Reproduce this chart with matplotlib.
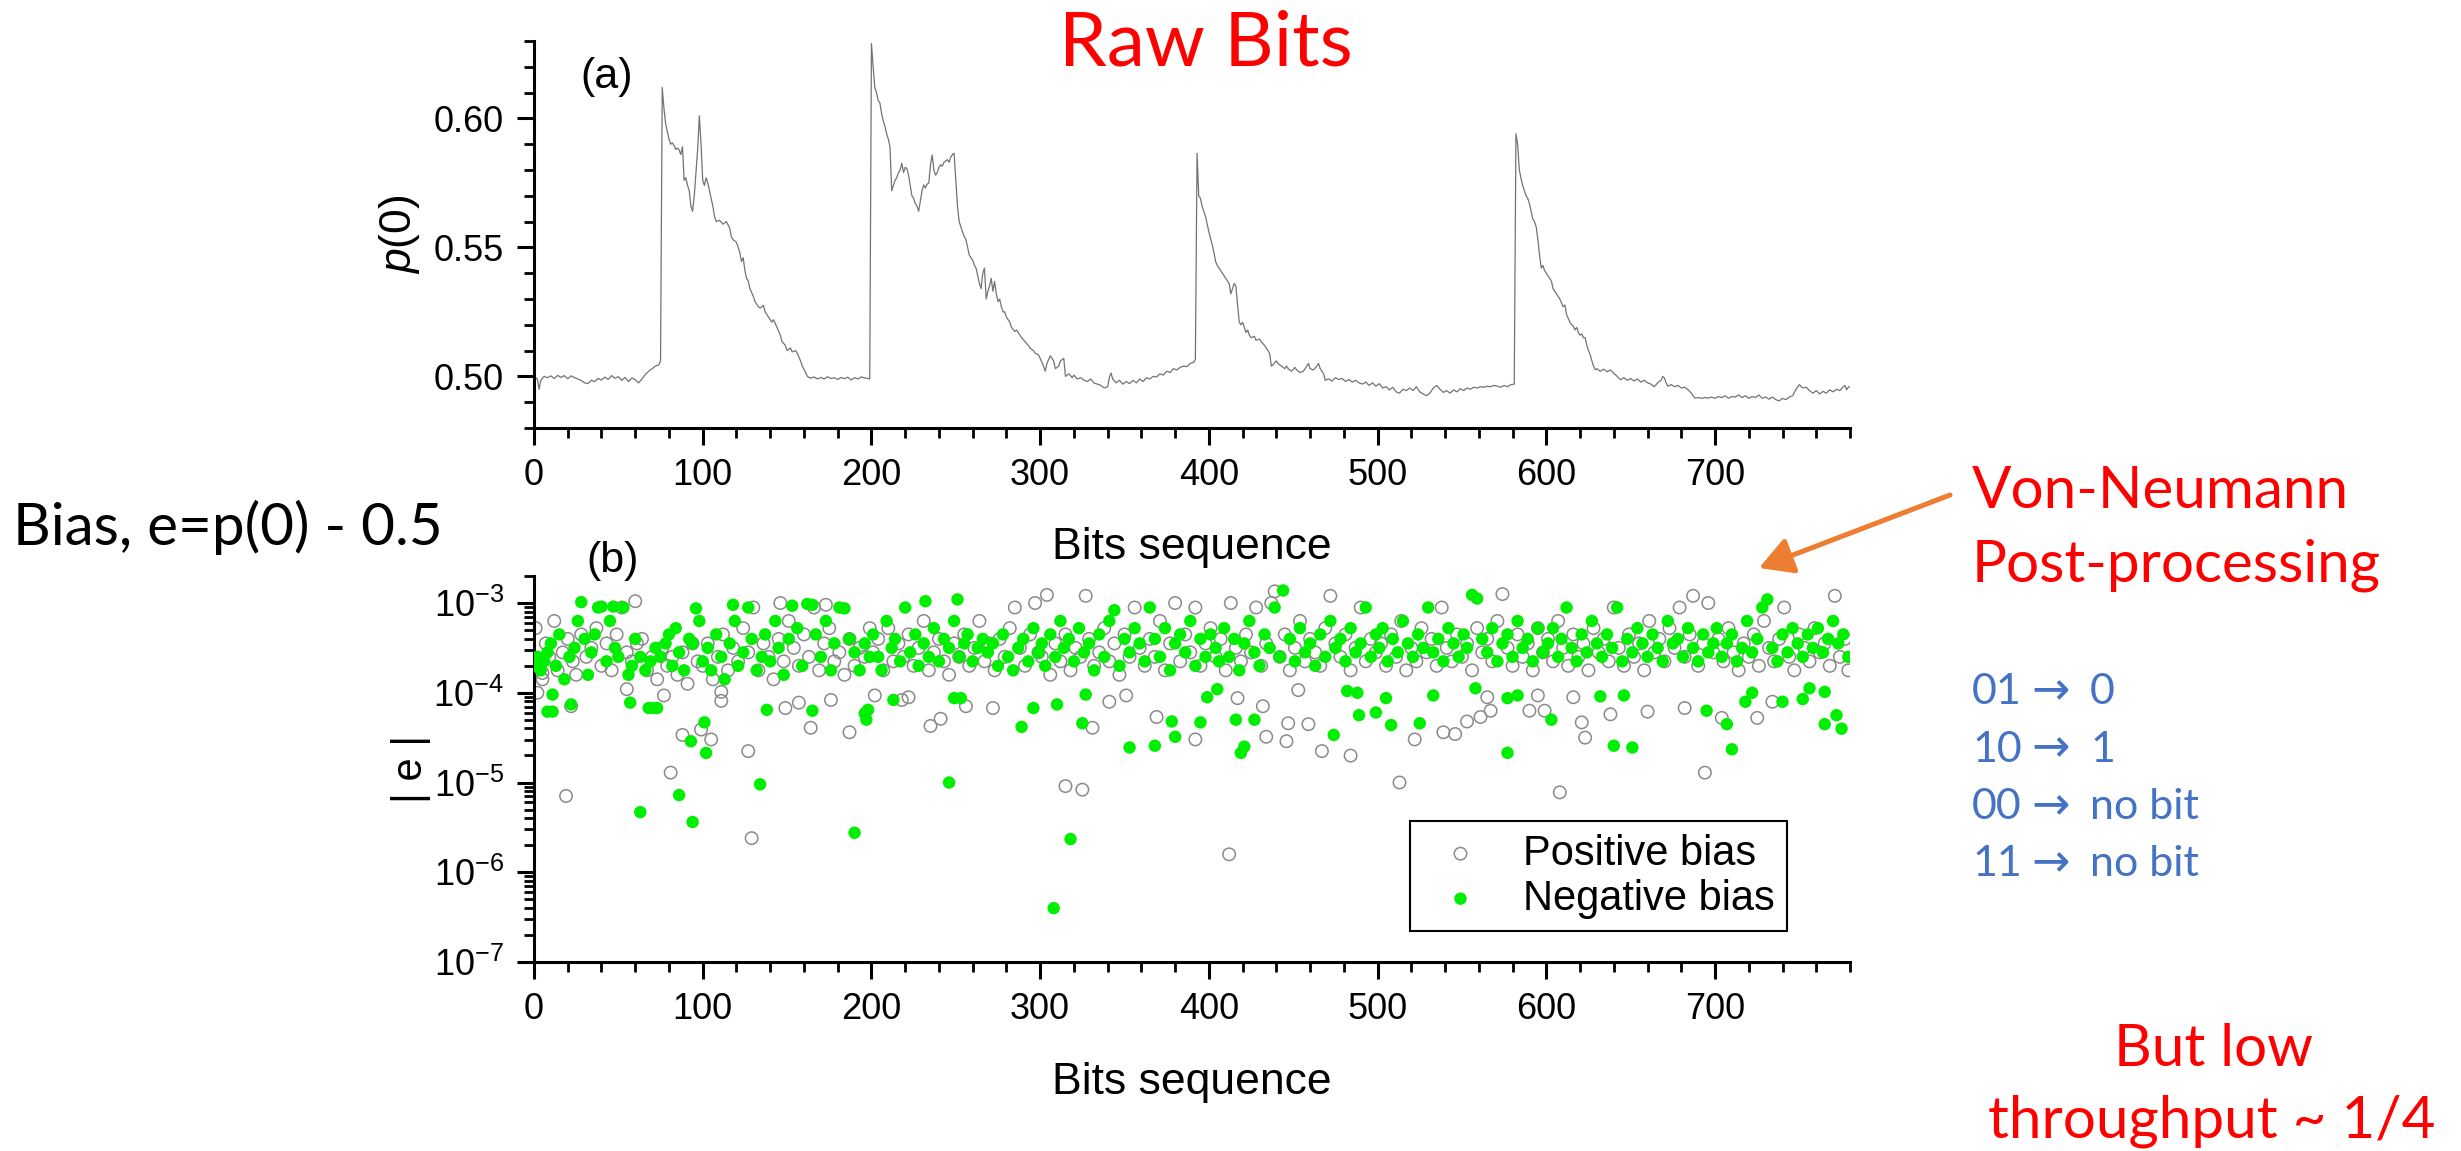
import numpy as np
import matplotlib
matplotlib.use("Agg")
import matplotlib.pyplot as plt
from matplotlib.ticker import MultipleLocator, FormatStrFormatter, LogLocator, NullFormatter
from matplotlib.patches import FancyArrowPatch

# figure size in pixels (dpi 100)
W, H = 2461, 1151


def fx(px):
    return px / W


def fy(py):
    return 1 - py / H


# ---- (a) p(0) trace ----
seg1_bits = [0, 2, 3, 4, 6, 8, 10, 12, 14, 16, 18, 20, 22, 24, 26, 28, 30, 32, 34, 36,
             38, 40, 42, 44, 46, 48, 50, 52, 54, 56, 58, 60, 62, 64, 66, 68, 70, 72, 74, 75]
seg1_p = [.5000, .4990, .4950, .4985, .5000, .4995, .5002, .4992, .5004, .4996,
          .5003, .4991, .5002, .4995, .4990, .4984, .4975, .4972, .4985, .4980,
          .4992, .4986, .4997, .4988, .5003, .4993, .4999, .4985, .4996, .4980,
          .4994, .4987, .4975, .4990, .5008, .5020, .5030, .5040, .5045, .5060]

seg2_bits = [76, 77, 78, 79, 80, 81, 82, 83, 84, 85, 86, 87, 88, 89, 90, 91, 92, 93, 94, 95,
             96, 97, 98, 99, 100, 101, 102, 103, 104, 105, 106, 107, 108,
             110, 112, 114, 116, 117, 118, 120, 122, 123, 124, 125, 126, 127, 128, 130, 131,
             133, 134, 136, 137, 139, 141, 142, 144, 146, 147, 149, 150, 152, 153, 155, 156,
             158, 159, 161, 162,
             164, 166, 168, 170, 172, 174, 176, 178, 180, 182, 184, 186, 188, 190, 192, 194,
             196, 198, 199]
seg2_p = [.6120, .6040, .5980, .5950, .5920, .5900, .5905, .5895, .5880, .5885,
          .5878, .5860, .5890, .5760, .5770, .5740, .5720, .5660, .5640, .5700,
          .5790, .5880, .6010, .5900, .5760, .5740, .5770, .5750, .5720, .5690,
          .5660, .5620, .5600,
          .5605, .5590, .5600, .5575, .5540, .5530, .5520, .5480, .5445, .5460,
          .5410, .5380, .5370, .5340, .5310, .5290, .5270, .5265, .5275, .5250,
          .5230, .5210, .5220, .5190, .5160, .5135, .5120, .5100, .5110, .5095,
          .5100, .5090, .5060, .5040, .5015, .5000,
          .4993, .4998, .4990, .4996, .4990, .4999, .4992, .4995, .4988, .4996,
          .4991, .4997, .4986, .4995, .4990, .4998, .4994, .4992, .4990]

seg3_bits = [200, 201, 202, 203, 204, 205, 206, 207, 208, 209,
             210, 211, 212, 213, 214, 215, 216, 217, 218, 219,
             220, 221, 222, 223, 224, 225, 226, 227, 228, 229,
             230, 231, 232, 233, 234, 235, 236, 237, 238, 239,
             240, 241, 242, 243, 244, 245, 246, 247, 248, 249,
             250, 251, 252, 253, 254, 255, 256, 257, 258,
             260, 261, 262, 263, 264, 265, 266, 267, 268, 269,
             270, 271, 272, 273, 274, 275, 276, 277, 278, 279, 280,
             282, 283, 285, 286, 288, 289, 291, 293, 294, 296,
             297, 299, 300, 302, 303, 304, 306, 308, 309, 311,
             312, 314, 315, 317, 319, 320, 322, 324, 326, 328,
             330, 332, 334, 336, 338, 340, 341, 342, 343,
             345, 347, 349, 351, 353, 355, 357, 359, 361, 363, 365, 367,
             369, 371, 373, 375, 377, 379, 381, 383, 385, 387, 389, 391, 392]
seg3_p = [.6290, .6200, .6120, .6100, .6070, .6060, .6020, .5990, .5970, .5940,
          .5920, .5890, .5720, .5740, .5760, .5770, .5790, .5800, .5826, .5790,
          .5810, .5806, .5780, .5740, .5700, .5690, .5670, .5660, .5640, .5680,
          .5720, .5742, .5730, .5745, .5750, .5820, .5858, .5800, .5780, .5790,
          .5810, .5820, .5815, .5830, .5835, .5840, .5830, .5850, .5860, .5865,
          .5760, .5660, .5600, .5580, .5560, .5542, .5530, .5500, .5470,
          .5450, .5432, .5420, .5390, .5360, .5340, .5400, .5420, .5300, .5330,
          .5350, .5380, .5330, .5368, .5320, .5290, .5300, .5270, .5250, .5250, .5230,
          .5210, .5190, .5174, .5180, .5160, .5150, .5135, .5120, .5110, .5100,
          .5090, .5084, .5070, .5040, .5020, .5050, .5080, .5060, .5030, .5040,
          .5060, .5070, .5000, .5010, .4995, .5005, .4990, .4995, .4985, .4980,
          .4990, .4974, .4970, .4965, .4955, .4960, .4995, .5013, .4990,
          .4975, .4985, .4970, .4980, .4972, .4985, .4975, .4990, .4980, .4995, .4990, .5000,
          .4998, .5010, .5005, .5020, .5015, .5030, .5025, .5035, .5040, .5038, .5050, .5055, .5065]

seg4_bits = [393, 394, 395, 396, 397, 398, 399, 400, 401, 402,
             403, 404, 405, 406, 407, 408, 409, 410, 411, 412,
             413, 414, 415, 416, 417, 418, 419, 420, 421, 422, 423, 424, 425,
             427, 428, 430, 431, 433, 435, 436, 437, 438, 440,
             441, 443, 445, 446, 447, 449, 451, 452, 454, 456,
             458, 459, 460, 462, 464, 465, 466, 468, 469,
             471, 473, 475, 477, 479, 481, 483, 485, 487, 489,
             491, 493, 495, 497, 499, 501, 503, 505, 507, 509,
             511, 513, 515, 517, 519, 521, 523, 525, 527, 529,
             531, 533, 535, 537, 539, 541, 543, 545, 547, 549,
             551, 553, 555, 557, 559, 561, 563, 565, 567, 569,
             571, 573, 575, 577, 579, 581]
seg4_p = [.5865, .5700, .5690, .5660, .5640, .5620, .5590, .5560, .5535, .5510,
          .5480, .5445, .5430, .5420, .5410, .5400, .5390, .5380, .5370, .5360,
          .5320, .5340, .5360, .5350, .5280, .5210, .5200, .5210, .5190, .5170, .5180, .5160, .5150,
          .5155, .5140, .5145, .5135, .5120, .5100, .5090, .5040, .5045, .5060,
          .5050, .5040, .5030, .5040, .5030, .5020, .5035, .5025, .5015, .5020,
          .5040, .5050, .5030, .5025, .5040, .5050, .5030, .5010, .4985,
          .4990, .4982, .4995, .4988, .4992, .4980, .4988, .4978, .4985, .4975,
          .4970, .4978, .4965, .4975, .4962, .4972, .4955, .4960, .4948, .4958,
          .4940, .4935, .4950, .4945, .4955, .4945, .4960, .4940, .4932, .4925,
          .4935, .4955, .4965, .4950, .4938, .4945, .4935, .4948, .4940, .4952,
          .4945, .4955, .4950, .4958, .4955, .4960, .4958, .4962, .4960, .4965,
          .4962, .4958, .4965, .4960, .4968, .4970]

seg5_bits = [582, 583, 584, 585, 586, 587, 588, 589, 590, 591,
             592, 593, 594, 595, 596, 597, 598, 599, 600, 601,
             602, 603, 604, 605, 606, 607, 608, 609, 610, 611,
             612, 613, 614, 615, 616, 617, 618, 619, 620, 621,
             622, 623, 624, 625, 626, 627, 628, 629,
             630, 632, 634, 636, 638, 640, 642, 644, 646, 648,
             650, 652, 654, 656, 658, 660, 662, 664, 666, 668,
             669, 670, 671, 672,
             674, 676, 678, 680, 682, 684, 686, 688, 690, 692,
             694, 696, 698, 700, 702, 704, 706, 708, 710, 712,
             714, 716, 718, 720, 722, 724, 726, 728, 730, 732,
             734, 736, 738, 740, 742, 744, 746, 748, 750, 752,
             754, 756, 758, 760, 762, 764, 766, 768, 770, 772,
             774, 776, 777, 778, 779, 780]
seg5_p = [.5940, .5900, .5800, .5768, .5740, .5720, .5700, .5690, .5670, .5640,
          .5610, .5600, .5580, .5530, .5470, .5420, .5430, .5410, .5400, .5390,
          .5380, .5370, .5340, .5330, .5320, .5310, .5300, .5285, .5270, .5277,
          .5240, .5225, .5210, .5200, .5195, .5180, .5190, .5170, .5160, .5165,
          .5150, .5150, .5120, .5100, .5084, .5060, .5040, .5026,
          .5030, .5020, .5028, .5018, .5025, .5012, .5000, .4987, .4995, .4985,
          .4992, .4982, .4990, .4978, .4985, .4975, .4970, .4960, .4975, .4985,
          .5000, .4994, .4975, .4962,
          .4968, .4960, .4965, .4955, .4958, .4948, .4935, .4916, .4918, .4915,
          .4918, .4916, .4920, .4915, .4922, .4918, .4925, .4915, .4922, .4920,
          .4928, .4918, .4925, .4915, .4922, .4918, .4928, .4915, .4920, .4912,
          .4920, .4910, .4905, .4915, .4910, .4920, .4925, .4950, .4968, .4955,
          .4958, .4945, .4935, .4945, .4932, .4942, .4935, .4948, .4940, .4950,
          .4945, .4960, .4965, .4948, .4958, .4960]

# ---- (b) |e| scatter, values as log10 exponents ----
pos_x = [1, 3, 5, 7, 9, 12, 14, 17, 20, 23,
         25, 28, 31, 34, 37, 40, 43, 46, 49, 52,
         55, 58, 60, 61, 64, 67, 70, 73, 76, 79,
         82, 85, 88, 91, 94, 97, 100, 103, 106, 109,
         112, 115, 118, 121, 124, 127, 130, 133, 136, 139,
         142, 145, 146, 148, 151, 154, 157, 160, 163, 166,
         169, 172, 173, 175, 178, 181, 184, 187, 190, 193,
         196, 199, 201, 204, 207, 210, 213, 216, 219, 222,
         225, 228, 231, 234, 237, 240, 243, 246, 249, 252,
         255, 258, 261, 264, 267, 270, 273, 276, 279, 282,
         285, 288, 291, 294, 297, 299, 301, 304, 306, 309,
         312, 315, 318, 321, 324, 327, 329, 332, 335, 338,
         341, 344, 347, 350, 353, 356, 359, 362, 365, 368,
         371, 374, 377, 380, 383, 386, 389, 392, 395, 398,
         401, 404, 407, 410, 413, 416, 419, 422, 425, 428,
         431, 434, 437, 439, 442, 445, 448, 451, 454, 457,
         460, 463, 466, 469, 472, 475, 478, 481, 484, 487,
         490, 493, 496, 499, 502, 505, 508, 511, 514, 517,
         520, 523, 526, 529, 532, 535, 538, 541, 544, 547,
         550, 553, 556, 559, 562, 565, 568, 571, 574, 577,
         580, 583, 586, 589, 592, 595, 598, 601, 604, 607,
         610, 613, 616, 619, 622, 625, 628, 631, 634, 637,
         640, 643, 646, 649, 652, 655, 658, 661, 664, 667,
         670, 673, 676, 679, 682, 685, 687, 690, 693, 696,
         699, 702, 705, 708, 711, 714, 717, 720, 723, 726,
         729, 732, 735, 738, 741, 744, 747, 750, 753, 756,
         759, 762, 765, 768, 771, 774, 777, 779]
pos_exp = [-3.28, -3.70, -3.85, -3.45, -3.60, -3.20, -3.75, -3.55, -3.40, -3.65,
           -3.80, -3.35, -3.60, -3.50, -3.28, -3.70, -3.45, -3.75, -3.35, -3.05,
           -3.55, -3.65, -2.98, -3.45, -3.40, -3.75, -3.60, -3.85, -3.50, -3.70,
           -3.60, -3.80, -3.55, -3.90, -3.45, -3.65, -3.70, -3.45, -3.85, -3.60,
           -3.35, -3.75, -3.50, -3.65, -3.28, -3.55, -3.05, -3.75, -3.45, -3.60,
           -3.85, -3.40, -3.00, -3.65, -3.20, -3.50, -3.70, -3.35, -3.60, -3.05,
           -3.75, -3.45, -3.02, -3.28, -3.65, -3.55, -3.80, -3.40, -3.70, -3.50,
           -3.60, -3.28, -3.55, -3.40, -3.75, -3.28, -3.65, -3.45, -3.60, -3.35,
           -3.70, -3.50, -3.20, -3.75, -3.55, -3.40, -3.65, -3.80, -3.45, -3.60,
           -3.35, -3.70, -3.50, -3.20, -3.65, -3.45, -3.75, -3.40, -3.60, -3.28,
           -3.05, -3.50, -3.70, -3.35, -3.00, -3.55, -3.60, -2.91, -3.80, -3.45,
           -3.65, -3.35, -3.75, -3.50, -3.60, -2.92, -3.40, -3.70, -3.55, -3.28,
           -3.65, -3.45, -3.80, -3.35, -3.60, -3.05, -3.50, -3.70, -3.40, -3.60,
           -3.20, -3.75, -3.45, -3.00, -3.65, -3.35, -3.55, -3.05, -3.70, -3.45,
           -3.28, -3.60, -3.40, -3.75, -3.00, -3.50, -3.65, -3.35, -3.55, -3.05,
           -3.70, -3.45, -3.00, -2.87, -3.60, -3.35, -3.75, -3.50, -3.20, -3.65,
           -3.40, -3.55, -3.70, -3.28, -2.92, -3.45, -3.60, -3.35, -3.75, -3.50,
           -3.05, -3.65, -3.40, -3.55, -3.45, -3.70, -3.35, -3.60, -3.20, -3.75,
           -3.50, -3.65, -3.28, -3.55, -3.40, -3.70, -3.05, -3.50, -3.65, -3.35,
           -3.60, -3.45, -3.75, -3.28, -3.55, -3.40, -3.65, -3.20, -2.90, -3.50,
           -3.70, -3.35, -3.60, -3.45, -3.75, -3.28, -3.55, -3.40, -3.65, -3.20,
           -3.50, -3.70, -3.35, -3.60, -3.45, -3.75, -3.28, -3.55, -3.40, -3.65,
           -3.05, -3.50, -3.70, -3.35, -3.60, -3.45, -3.75, -3.20, -3.55, -3.40,
           -3.65, -3.28, -3.50, -3.05, -3.60, -3.35, -2.92, -3.70, -3.45, -3.00,
           -3.55, -3.40, -3.65, -3.28, -3.55, -3.75, -3.45, -3.60, -3.35, -3.70,
           -3.20, -3.50, -3.65, -3.40, -3.05, -3.60, -3.75, -3.35, -3.50, -3.65,
           -3.28, -3.55, -3.45, -3.70, -2.92, -3.60, -3.40, -3.75]

pos_low_x = [2, 5, 19, 22, 55, 77, 81, 88, 99, 105,
             111, 111, 127, 129, 149, 157, 164, 176, 187, 202,
             218, 222, 235, 241, 256, 272, 315, 325, 331, 341,
             351, 369, 392, 412, 417, 432, 434, 446, 447, 453,
             459, 467, 484, 513, 522, 539, 546, 553, 561, 565,
             567, 590, 595, 599, 608, 616, 621, 623, 638, 660,
             682, 694, 704, 725, 734]
pos_low_exp = [-4.00, -3.78, -5.15, -4.15, -3.96, -4.03, -4.89, -4.47, -4.41, -4.52,
               -4.09, -3.99, -4.65, -5.62, -4.17, -4.11, -4.39, -4.08, -4.44, -4.03,
               -4.08, -4.05, -4.37, -4.29, -4.15, -4.17, -5.04, -5.08, -4.39, -4.10,
               -4.03, -4.27, -4.52, -5.80, -4.06, -4.15, -4.49, -4.54, -4.34, -3.97,
               -4.35, -4.65, -4.70, -5.00, -4.52, -4.44, -4.46, -4.32, -4.27, -4.05,
               -4.20, -4.20, -4.03, -4.20, -5.11, -4.05, -4.33, -4.50, -4.24, -4.21,
               -4.17, -4.89, -4.28, -4.28, -4.10]

neg_x = [0, 2, 4, 6, 8, 10, 13, 15, 18, 21,
         24, 26, 28, 30, 32, 34, 36, 38, 40, 43,
         45, 47, 48, 50, 53, 56, 58, 60, 63, 66,
         69, 72, 75, 78, 80, 82, 84, 86, 89, 92,
         94, 96, 98, 100, 103, 105, 108, 111, 113, 116,
         118, 119, 121, 124, 127, 129, 132, 135, 137, 140,
         143, 145, 148, 151, 153, 156, 159, 162, 165, 167,
         170, 173, 176, 178, 181, 184, 187, 190, 193, 196,
         199, 201, 204, 206, 209, 212, 214, 217, 220, 223,
         226, 228, 231, 232, 234, 237, 240, 243, 246, 249,
         251, 252, 255, 257, 260, 263, 266, 269, 272, 275,
         278, 281, 284, 287, 290, 293, 296, 299, 301, 303,
         306, 309, 312, 314, 317, 320, 323, 326, 329, 332,
         335, 338, 341, 344, 347, 350, 353, 356, 359, 362,
         365, 368, 371, 374, 377, 380, 383, 386, 389, 392,
         395, 398, 401, 404, 406, 409, 412, 415, 418, 421,
         424, 427, 430, 433, 436, 439, 442, 444, 448, 451,
         454, 457, 460, 463, 466, 469, 472, 475, 478, 481,
         484, 487, 490, 493, 496, 499, 501, 503, 506, 509,
         512, 515, 518, 521, 524, 527, 530, 533, 536, 539,
         542, 545, 548, 551, 553, 556, 559, 562, 565, 568,
         571, 574, 577, 580, 583, 586, 589, 592, 595, 598,
         601, 604, 607, 609, 612, 615, 618, 621, 624, 627,
         630, 633, 636, 639, 642, 645, 648, 651, 654, 657,
         660, 663, 666, 669, 672, 675, 678, 681, 684, 687,
         690, 693, 696, 699, 701, 704, 707, 710, 713, 716,
         719, 722, 725, 728, 731, 734, 737, 740, 743, 746,
         749, 752, 755, 758, 761, 764, 767, 770, 773, 776,
         779]
neg_exp = [-3.70, -3.60, -3.75, -3.65, -3.55, -3.45, -3.70, -3.35, -3.85, -3.60,
           -3.50, -3.20, -2.99, -3.40, -3.80, -3.55, -3.35, -3.05, -3.04, -3.65,
           -3.20, -3.04, -3.50, -3.60, -3.05, -3.80, -3.70, -3.40, -3.60, -3.75,
           -3.65, -3.50, -3.60, -3.45, -3.35, -3.70, -3.28, -3.55, -3.75, -3.40,
           -3.45, -3.06, -3.20, -3.65, -3.50, -3.75, -3.35, -3.60, -3.85, -3.45,
           -3.02, -3.20, -3.70, -3.55, -3.05, -3.40, -3.75, -3.60, -3.35, -3.65,
           -3.20, -3.50, -3.80, -3.40, -3.03, -3.28, -3.70, -3.01, -3.02, -3.35,
           -3.60, -3.20, -3.75, -3.45, -3.05, -3.06, -3.40, -3.55, -3.75, -3.45,
           -3.60, -3.35, -3.60, -3.75, -3.20, -3.50, -3.40, -3.65, -3.05, -3.55,
           -3.35, -3.70, -3.45, -2.98, -3.60, -3.28, -3.65, -3.40, -3.50, -3.20,
           -2.96, -3.60, -3.45, -3.35, -3.65, -3.50, -3.40, -3.55, -3.45, -3.70,
           -3.35, -3.60, -3.75, -3.50, -3.40, -3.65, -3.28, -3.55, -3.45, -3.70,
           -3.35, -3.60, -3.20, -3.50, -3.40, -3.65, -3.28, -3.55, -3.45, -3.75,
           -3.35, -3.60, -3.20, -3.08, -3.70, -3.40, -3.55, -3.28, -3.45, -3.65,
           -3.05, -3.40, -3.60, -3.28, -3.75, -3.45, -3.35, -3.55, -3.20, -3.70,
           -3.40, -3.60, -3.35, -3.50, -3.65, -3.28, -3.60, -3.40, -3.75, -3.45,
           -3.20, -3.55, -3.70, -3.35, -3.50, -3.05, -3.60, -2.86, -3.40, -3.65,
           -3.28, -3.55, -3.45, -3.70, -3.35, -3.60, -3.20, -3.50, -3.40, -3.65,
           -3.28, -3.55, -3.45, -3.05, -3.60, -3.35, -3.50, -3.28, -3.65, -3.40,
           -3.55, -3.20, -3.45, -3.60, -3.35, -3.50, -3.05, -3.55, -3.40, -3.65,
           -3.28, -3.45, -3.60, -3.35, -3.50, -2.91, -2.95, -3.40, -3.55, -3.28,
           -3.65, -3.45, -3.35, -3.60, -3.20, -3.50, -3.40, -3.65, -3.28, -3.55,
           -3.45, -3.28, -3.60, -3.40, -3.05, -3.50, -3.65, -3.35, -3.55, -3.20,
           -3.45, -3.60, -3.35, -3.50, -3.05, -3.65, -3.40, -3.55, -3.28, -3.45,
           -3.60, -3.35, -3.50, -3.65, -3.20, -3.45, -3.40, -3.60, -3.28, -3.50,
           -3.65, -3.35, -3.55, -3.45, -3.28, -3.60, -3.45, -3.35, -3.65, -3.50,
           -3.20, -3.55, -3.40, -3.05, -2.96, -3.50, -3.65, -3.35, -3.55, -3.28,
           -3.45, -3.60, -3.35, -3.50, -3.28, -3.55, -3.40, -3.20, -3.45, -3.35,
           -3.60]

neg_low_x = [8, 11, 11, 22, 57, 63, 68, 71, 73, 86,
             93, 94, 101, 102, 134, 138, 165, 190, 196, 197,
             198, 213, 246, 249, 253, 289, 296, 308, 310, 318,
             325, 327, 353, 368, 378, 380, 395, 399, 405, 416,
             419, 421, 427, 474, 482, 488, 489, 499, 505, 508,
             525, 533, 558, 577, 577, 583, 603, 632, 640, 646,
             651, 695, 707, 710, 718, 722, 740, 752, 756, 765,
             765, 772, 775]
neg_low_exp = [-4.21, -4.21, -4.02, -4.13, -4.11, -5.33, -4.17, -4.17, -4.17, -5.14,
               -4.54, -5.44, -4.33, -4.67, -5.02, -4.19, -4.20, -5.56, -4.23, -4.30,
               -4.19, -4.08, -5.00, -4.06, -4.06, -4.38, -4.17, -6.40, -4.13, -5.63,
               -4.34, -4.02, -4.61, -4.59, -4.32, -4.49, -4.33, -4.05, -3.96, -4.30,
               -4.67, -4.60, -4.30, -4.47, -3.98, -4.00, -4.25, -4.22, -4.06, -4.36,
               -4.34, -4.03, -3.95, -4.06, -4.67, -4.03, -4.30, -4.04, -4.59, -4.03,
               -4.61, -4.20, -4.35, -4.63, -4.10, -4.00, -4.10, -4.07, -3.95, -3.99,
               -4.35, -4.25, -4.40]

vn_in = ["01", "10", "00", "11"]
vn_out = ["0", "1", "no bit", "no bit"]

# ---- style ----
plt.rcParams['font.family'] = ['Liberation Sans', 'DejaVu Sans']
plt.rcParams['mathtext.fontset'] = 'custom'
plt.rcParams['mathtext.rm'] = 'Liberation Sans'
plt.rcParams['mathtext.it'] = 'Liberation Sans:italic'
plt.rcParams['axes.linewidth'] = 2.2
slide_font = ['Lato', 'DejaVu Sans']
blue = '#4472C4'

fig = plt.figure(figsize=(W / 100, H / 100), dpi=100)
ax1 = fig.add_axes([fx(534), fy(428), (1850 - 534) / W, (428 - 41) / H])
ax2 = fig.add_axes([fx(534), fy(962), (1850 - 534) / W, (962 - 576) / H])

for ax in (ax1, ax2):
    ax.spines['top'].set_visible(False)
    ax.spines['right'].set_visible(False)
    ax.set_xlim(0, 780)
    ax.xaxis.set_major_locator(MultipleLocator(100))
    ax.xaxis.set_minor_locator(MultipleLocator(20))
    ax.tick_params(which='major', direction='out', length=12.5, width=2.2,
                   labelsize=26, pad=9)
    ax.tick_params(which='minor', direction='out', length=7, width=2.0)
    ax.set_xlabel('Bits sequence', fontsize=32)

# (a)
bits = seg1_bits + seg2_bits + seg3_bits + seg4_bits + seg5_bits
p0 = seg1_p + seg2_p + seg3_p + seg4_p + seg5_p
ax1.plot(bits, p0, color='0.45', lw=0.9)
ax1.set_ylim(0.48, 0.63)
ax1.yaxis.set_major_locator(MultipleLocator(0.05))
ax1.yaxis.set_minor_locator(MultipleLocator(0.01))
ax1.yaxis.set_major_formatter(FormatStrFormatter('%.2f'))
ax1.set_ylabel('$p$(0)', fontsize=32)
ax1.yaxis.set_label_coords(-0.085, 0.5)
ax1.xaxis.set_label_coords(0.5, -0.255)

# (b)
sc_pos = ax2.scatter(pos_x + pos_low_x, 10.0 ** np.array(pos_exp + pos_low_exp),
                     s=80, facecolors='none', edgecolors='#8a8a8a', linewidths=1.1, zorder=2)
sc_neg = ax2.scatter(neg_x + neg_low_x, 10.0 ** np.array(neg_exp + neg_low_exp),
                     s=80, color='#00ee00', edgecolors='none', zorder=3)
ax2.set_yscale('log')
ax2.set_ylim(1e-7, 2e-3)
ax2.yaxis.set_major_locator(LogLocator(base=10, numticks=10))
ax2.yaxis.set_minor_locator(LogLocator(base=10, subs=np.arange(2, 10), numticks=20))
ax2.yaxis.set_minor_formatter(NullFormatter())
ax2.set_ylabel('| e |', fontsize=30)
ax2.yaxis.set_label_coords(-0.078, 0.5)
ax2.xaxis.set_label_coords(0.5, -0.26)

leg = ax2.legend([sc_pos, sc_neg], ['Positive bias', 'Negative bias'], loc='lower left',
                 bbox_to_anchor=(0.666, 0.080), borderaxespad=0, fontsize=30,
                 frameon=True, fancybox=False, edgecolor='black', framealpha=1,
                 handlelength=1.8, handletextpad=0.6, borderpad=0.3, labelspacing=0.12,
                 scatterpoints=1)
leg.get_frame().set_linewidth(1.5)

fig.text(fx(607), fy(77), '(a)', fontsize=31, ha='center', va='center')
fig.text(fx(613), fy(561), '(b)', fontsize=31, ha='center', va='center')

# slide annotations
fig.text(fx(1206), fy(65), 'Raw Bits', color='red', fontsize=55, family=slide_font,
         ha='center', va='baseline')
fig.text(fx(13), fy(545), 'Bias, e=p(0) - 0.5', color='black', fontsize=42,
         family=slide_font, ha='left', va='baseline')
fig.text(fx(1972), fy(508), 'Von-Neumann', color='red', fontsize=42, family=slide_font,
         ha='left', va='baseline')
fig.text(fx(1972), fy(582), 'Post-processing', color='red', fontsize=42, family=slide_font,
         ha='left', va='baseline')
for i in range(len(vn_in)):
    base = fy(704 + 57.5 * i)
    fig.text(fx(1972), base, vn_in[i], color=blue, fontsize=31, family=slide_font,
             ha='left', va='baseline')
    fig.text(fx(2031), base, '\u2192', color=blue, fontsize=33, family='DejaVu Sans',
             ha='left', va='baseline')
    fig.text(fx(2090), base, vn_out[i], color=blue, fontsize=31, family=slide_font,
             ha='left', va='baseline')
fig.text(fx(2214), fy(1066), 'But low', color='red', fontsize=42, family=slide_font,
         ha='center', va='baseline')
fig.text(fx(2212), fy(1138), 'throughput ~ 1/4', color='red', fontsize=42,
         family=slide_font, ha='center', va='baseline')

arrow = FancyArrowPatch(posA=(fx(1950), fy(495)), posB=(fx(1759), fy(568)),
                        transform=fig.transFigure, arrowstyle='-|>,head_length=0.45,head_width=0.25',
                        mutation_scale=45, color='#ED7D31', lw=3.6, shrinkA=0, shrinkB=0)
fig.add_artist(arrow)

fig.savefig('out.png', dpi=100)
